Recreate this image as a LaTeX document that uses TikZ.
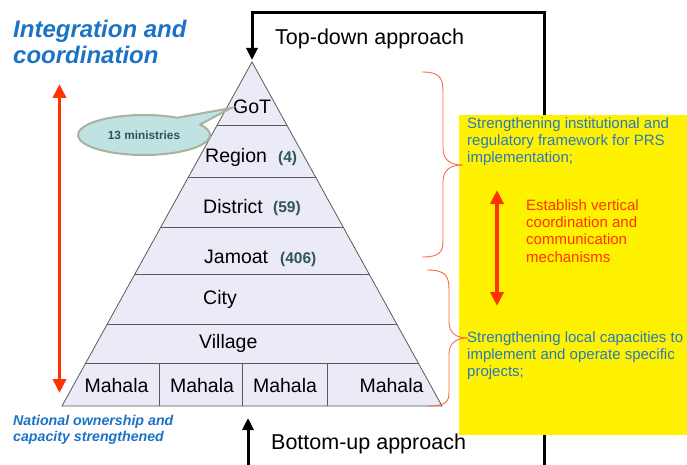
\documentclass[tikz,border=0pt]{standalone}
\usepackage{fontspec}
\setmainfont{Liberation Sans}
\usetikzlibrary{arrows.meta,shapes.callouts}
\definecolor{headblue}{HTML}{1C72C4}
\definecolor{textblue}{HTML}{2A78C4}
\definecolor{alertred}{HTML}{FF3300}
\definecolor{bracered}{HTML}{FF6650}
\definecolor{tierfill}{HTML}{EBEBF8}
\definecolor{tierline}{HTML}{5A5A5A}
\definecolor{countcol}{HTML}{2F5558}
\definecolor{bubblefill}{HTML}{BFE2E2}
\definecolor{bubbleline}{HTML}{A8B39E}
\begin{document}
\begin{tikzpicture}[x=1pt,y=-1pt,
  flow/.style={line width=3pt,-{Triangle[length=12pt,width=11pt]}},
  bothway/.style={alertred,line width=3.5pt,{Triangle[length=14pt,width=13pt]}-{Triangle[length=14pt,width=13pt]}},
  bracket/.style={bracered,line width=0.9pt},
  tier/.style={anchor=base west,inner sep=0pt,font=\fontsize{19.5}{22}\selectfont},
  count/.style={anchor=base west,inner sep=0pt,text=countcol,font=\fontsize{15.5}{18}\selectfont\bfseries},
  mahala/.style={anchor=base,inner sep=0pt,font=\fontsize{19.5}{22}\selectfont},
  approach/.style={anchor=base west,inner sep=0pt,font=\fontsize{21.5}{24}\selectfont},
  panelnote/.style={anchor=north west,inner sep=0pt,align=left,font=\fontsize{15}{17.4}\selectfont},
  headline/.style={anchor=north west,inner sep=0pt,align=left,text=headblue,font=\bfseries\itshape}]
\useasboundingbox (0,0) rectangle (687,465);

% corner points of the pyramid
\coordinate (apex) at (252,62);
\coordinate (bl) at (62,406);
\coordinate (br) at (442,406);

% top-down and bottom-up loops (drawn below the yellow panel)
\coordinate (topR) at (544,115);
\coordinate (botR) at (544,435);
\draw[flow] (topR) -- (544,13) -- (252,13) -- (252,60);
\draw[line width=3pt] (botR) -- (544,466) -- (248,466) -- (248,440);
\draw[flow] (248,466) -- (248,418);

% yellow panel
\node[fill=yellow,minimum width=230pt,minimum height=320pt,anchor=north west,inner sep=0pt] (panel) at (459,115) {};

% pyramid with its tiers
\fill[tierfill] (apex) -- (bl) -- (br) -- cycle;
\begin{scope}
  \clip (apex) -- (bl) -- (br) -- cycle;
  \foreach \y in {125,177,227,274,324,363}
    \draw[tierline,line width=0.9pt] (0,\y) -- (687,\y);
  \foreach \x in {159,242,327}
    \draw[tierline,line width=0.9pt] (\x,363) -- (\x,406);
\end{scope}
\draw[tierline,line width=0.8pt] (apex) -- (bl) -- (br) -- cycle;

\node[tier] (got) at (233,114) {GoT};
\node[tier] (region) at (205,162) {Region};
\node[count] (regionN) at (278,162) {(4)};
\node[tier] (district) at (203,213) {District};
\node[count] (districtN) at (273,212) {(59)};
\node[tier] (jamoat) at (204,263) {Jamoat};
\node[count] (jamoatN) at (280,263) {(406)};
\node[tier] (city) at (203,304) {City};
\node[tier] (village) at (199,348) {Village};
\node[mahala] (m1) at (116.5,392) {Mahala};
\node[mahala] (m2) at (202,392) {Mahala};
\node[mahala] (m3) at (285,392) {Mahala};
\node[mahala] (m4) at (391.5,392) {Mahala};

% speech bubble for the government level
\node[ellipse callout,fill=bubblefill,draw=bubbleline,line width=2pt,
      minimum width=132pt,minimum height=40pt,inner sep=0pt,
      callout absolute pointer={(231,108)},callout pointer arc=28,
      text=countcol,font=\fontsize{11.8}{13}\selectfont\bfseries] (bubble) at (144,135) {13 ministries};

% approach labels
\node[approach] (topdown) at (275,45) {Top-down approach};
\node[approach] (bottomup) at (271,449) {Bottom-up approach};

% side headings
\node[headline,font=\fontsize{24}{26}\selectfont\bfseries\itshape] (integration) at (13,19.5) {Integration and\\coordination};
\node[headline,font=\fontsize{14.2}{16}\selectfont\bfseries\itshape] (ownership) at (13,415.5) {National ownership and\\capacity strengthened};

% vertical double arrows
\coordinate (lt) at (59.5,84);
\coordinate (lb) at (59.5,393);
\draw[bothway] (lt) -- (lb);
\coordinate (mt) at (497,190);
\coordinate (mb) at (497,306);
\draw[bothway] (mt) -- (mb);

% panel texts
\node[panelnote,text=textblue] (inst) at (467,117) {Strengthening institutional and\\regulatory framework for PRS\\implementation;};
\node[panelnote,text=alertred] (vert) at (526,199) {Establish vertical\\coordination and\\communication\\mechanisms};
\node[panelnote,text=textblue] (local) at (467,331) {Strengthening local capacities to\\implement and operate specific\\projects;};

% curly brackets grouping the tiers
\draw[bracket] (422,72) .. controls (440,72) and (443,78) .. (443,92) -- (443,148)
  .. controls (443,160) and (450,165) .. (463,165)
  .. controls (450,165) and (443,170) .. (443,182) -- (443,240)
  .. controls (443,252) and (440,257) .. (422,257);
\draw[bracket] (427,270) .. controls (446,270) and (449,276) .. (449,290) -- (449,322)
  .. controls (449,333) and (456,338) .. (468,338)
  .. controls (456,338) and (449,343) .. (449,354) -- (449,392)
  .. controls (449,402) and (446,406) .. (427,406);
\end{tikzpicture}
\end{document}
